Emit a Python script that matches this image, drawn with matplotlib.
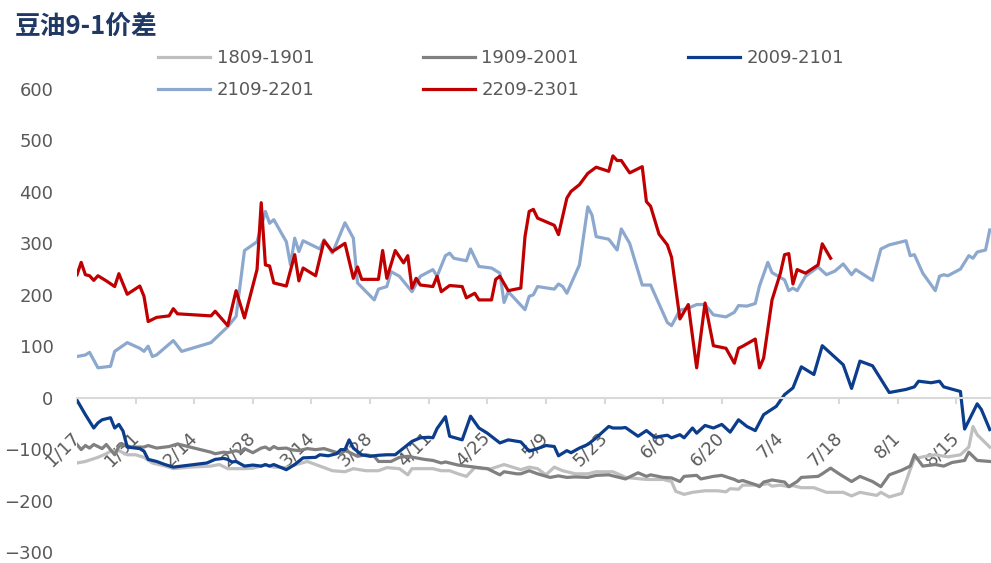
import matplotlib.pyplot as plt

plt.rcParams['font.family'] = ['DejaVu Sans', 'Noto Sans CJK SC']

# x = days since 1/17, y = spread
tick_days = [0, 14, 28, 42, 56, 70, 84, 98, 112, 126, 140, 154, 168, 182, 196, 210]
tick_labels = ['1/17', '1/31', '2/14', '2/28', '3/14', '3/28', '4/11', '4/25',
               '5/9', '5/23', '6/6', '6/20', '7/4', '7/18', '8/1', '8/15']

# 1809-1901
d1809 = [0, 2, 5, 7, 8, 10, 12, 14, 16, 18, 21, 23, 27, 32, 34, 36, 40, 42, 45, 47,
         50, 52, 55, 58, 61, 64, 66, 69, 72, 74, 77, 79, 80, 82, 85, 87, 89, 91, 93, 95,
         97, 99, 102, 104, 106, 108, 110, 112, 114, 116, 119, 122, 124, 128, 130, 131, 136, 140, 142, 143,
         145, 147, 150, 153, 155, 156, 158, 159, 163, 165, 166, 168, 170, 171, 173, 176, 179, 183, 185, 187,
         191, 192, 194, 197, 199, 200, 202, 205, 208, 211, 213, 214, 215, 218]
v1809 = [-127, -124, -116, -109, -104, -103, -111, -111, -116, -127, -133, -138, -135, -133, -130, -138, -138, -137, -131, -135,
         -136, -131, -124, -133, -142, -144, -138, -142, -142, -136, -138, -150, -138, -138, -138, -142, -142, -148, -153, -136,
         -138, -138, -130, -135, -140, -135, -138, -150, -135, -142, -148, -148, -144, -144, -151, -155, -159, -159, -163, -182,
         -188, -184, -181, -181, -183, -177, -178, -170, -170, -167, -172, -170, -173, -171, -175, -175, -184, -184, -191, -184,
         -190, -184, -193, -186, -140, -119, -115, -111, -115, -111, -96, -56, -72, -96]

# 1909-2001
d1909 = [0, 1, 2, 3, 4, 6, 7, 9, 10, 11, 13, 16, 17, 19, 22, 24, 27, 32, 33, 35,
         36, 38, 39, 40, 42, 44, 45, 46, 47, 48, 50, 51, 53, 55, 57, 59, 61, 63, 64, 65,
         67, 69, 71, 72, 75, 77, 79, 81, 83, 85, 87, 88, 91, 93, 95, 98, 99, 101, 102, 105,
         106, 108, 110, 113, 115, 117, 119, 122, 124, 127, 129, 131, 134, 136, 137, 140, 142, 144, 145, 148,
         149, 152, 154, 157, 158, 159, 162, 163, 164, 166, 169, 170, 172, 173, 177, 178, 180, 182, 185, 187,
         190, 192, 194, 197, 199, 200, 202, 205, 207, 209, 212, 213, 215, 218]
v1909 = [-91, -101, -93, -98, -91, -99, -91, -111, -95, -91, -96, -96, -93, -98, -95, -90, -96, -106, -109, -106,
         -107, -103, -106, -99, -107, -98, -96, -101, -95, -99, -98, -101, -103, -99, -101, -99, -104, -109, -103, -106,
         -114, -111, -114, -124, -124, -116, -114, -117, -120, -122, -127, -125, -131, -133, -135, -138, -142, -150, -144, -148,
         -148, -142, -148, -155, -152, -155, -154, -155, -151, -150, -154, -158, -146, -153, -150, -155, -156, -163, -153, -151,
         -158, -153, -151, -159, -163, -161, -169, -173, -164, -160, -164, -173, -163, -155, -153, -148, -137, -148, -163, -153,
         -163, -173, -150, -141, -133, -111, -133, -130, -133, -126, -122, -106, -122, -124]

# 2009-2101
d2009 = [0, 2, 4, 5, 6, 8, 9, 10, 11, 12, 15, 16, 17, 19, 21, 23, 27, 31, 33, 35,
         36, 37, 38, 40, 42, 44, 45, 46, 47, 50, 52, 54, 57, 58, 60, 62, 63, 64, 65, 66,
         68, 70, 72, 74, 76, 78, 80, 82, 84, 85, 86, 88, 89, 92, 94, 96, 98, 101, 103, 106,
         108, 110, 112, 114, 115, 117, 118, 120, 122, 124, 127, 128, 130, 131, 134, 136, 138, 141, 142, 144,
         145, 147, 148, 150, 152, 154, 156, 158, 160, 162, 164, 167, 169, 171, 173, 176, 178, 183, 185, 187,
         190, 194, 198, 200, 201, 204, 206, 207, 211, 212, 215, 216, 218]
v2009 = [-5, -33, -59, -49, -43, -39, -59, -52, -65, -96, -99, -104, -120, -124, -130, -135, -131, -127, -120, -118,
         -120, -125, -124, -133, -131, -133, -130, -133, -130, -140, -130, -117, -116, -111, -113, -109, -101, -101, -82, -98,
         -111, -114, -112, -111, -111, -98, -85, -78, -77, -78, -60, -37, -75, -82, -36, -59, -69, -88, -82, -86,
         -104, -99, -93, -95, -113, -103, -107, -98, -91, -78, -56, -59, -59, -58, -75, -64, -77, -73, -78, -72,
         -78, -59, -69, -54, -59, -52, -67, -43, -56, -64, -33, -17, 6, 19, 60, 45, 101, 64, 18, 71,
         62, 10, 16, 21, 32, 29, 32, 21, 12, -61, -12, -23, -62]

# 2109-2201
d2109 = [0, 2, 3, 5, 8, 9, 12, 15, 16, 17, 18, 19, 23, 25, 32, 36, 38, 40, 43, 45,
         46, 47, 50, 51, 52, 53, 54, 58, 59, 61, 64, 66, 67, 71, 72, 74, 75, 77, 80, 82,
         85, 86, 88, 89, 90, 93, 94, 96, 99, 101, 102, 103, 107, 108, 109, 110, 114, 115, 116, 117,
         120, 122, 123, 124, 127, 129, 130, 132, 135, 137, 141, 142, 144, 146, 148, 150, 152, 155, 157, 158,
         160, 162, 163, 165, 166, 169, 170, 171, 172, 174, 177, 179, 181, 183, 185, 186, 190, 192, 194, 198,
         199, 200, 202, 205, 206, 207, 208, 211, 213, 214, 215, 217, 218]
v2109 = [80, 83, 88, 58, 61, 90, 107, 96, 90, 100, 80, 83, 111, 90, 107, 138, 158, 286, 303, 362,
         339, 346, 303, 258, 310, 284, 305, 289, 307, 281, 340, 310, 223, 190, 211, 216, 245, 236, 206, 236,
         249, 236, 276, 281, 271, 266, 289, 255, 252, 242, 185, 206, 171, 197, 200, 216, 211, 221, 216, 203,
         258, 371, 355, 313, 308, 287, 328, 300, 219, 219, 146, 140, 170, 174, 181, 181, 161, 157, 166, 179,
         178, 183, 217, 263, 243, 229, 208, 213, 208, 236, 254, 239, 246, 260, 239, 249, 228, 289, 297, 305,
         276, 278, 242, 208, 236, 239, 237, 250, 276, 271, 283, 287, 326]

# 2209-2301
d2209 = [0, 1, 2, 3, 4, 5, 7, 9, 10, 12, 15, 16, 17, 19, 22, 23, 24, 32, 33, 36,
         38, 40, 43, 44, 45, 46, 47, 50, 52, 53, 54, 57, 59, 61, 64, 66, 67, 68, 72, 73,
         74, 76, 78, 79, 80, 81, 82, 85, 86, 87, 89, 92, 93, 95, 96, 99, 100, 101, 103, 106,
         107, 108, 109, 110, 114, 115, 117, 118, 120, 122, 124, 127, 128, 129, 130, 132, 135, 136, 137, 139,
         141, 142, 144, 146, 148, 150, 152, 155, 157, 158, 159, 162, 163, 164, 166, 168, 169, 170, 171, 172,
         174, 177, 178, 180]
v2209 = [239, 263, 239, 237, 228, 237, 227, 216, 241, 201, 217, 197, 148, 156, 159, 173, 163, 159, 168, 140,
         208, 155, 249, 379, 258, 256, 223, 217, 278, 227, 252, 237, 305, 284, 300, 232, 254, 230, 230, 286,
         232, 286, 262, 276, 213, 232, 219, 216, 236, 206, 218, 216, 194, 203, 190, 190, 230, 236, 208, 213,
         313, 362, 366, 349, 335, 317, 388, 401, 414, 436, 448, 440, 470, 461, 461, 437, 449, 381, 372, 318,
         297, 273, 153, 181, 58, 184, 101, 96, 67, 96, 100, 114, 58, 77, 190, 242, 278, 280, 221, 249,
         242, 258, 299, 271]

series = [
    ('1809-1901', d1809, v1809, '#BFBFBF'),
    ('1909-2001', d1909, v1909, '#808080'),
    ('2009-2101', d2009, v2009, '#0B3D8C'),
    ('2109-2201', d2109, v2109, '#8DA8CE'),
    ('2209-2301', d2209, v2209, '#C00000'),
]

fig = plt.figure(figsize=(9.91, 5.63), dpi=100)
ax = fig.add_axes([77 / 991, 11 / 563, 914 / 991, 463 / 563])

handles = []
for name, d, v, c in series:
    h, = ax.plot(d, v, color=c, lw=2.3, label=name, solid_joinstyle='round')
    handles.append(h)

ax.set_xlim(0, 218.3)
ax.set_ylim(-300, 600)
ax.set_yticks(range(-300, 601, 100))

for s in ['top', 'right', 'left']:
    ax.spines[s].set_visible(False)
ax.spines['bottom'].set_position(('data', 0))
ax.spines['bottom'].set_color('#D9D9D9')
ax.spines['bottom'].set_linewidth(1.5)

ax.set_xticks(tick_days)
ax.set_xticklabels(tick_labels, rotation=45, ha='right', va='center',
                   rotation_mode='anchor')
ax.tick_params(axis='x', colors='#D9D9D9', length=4, width=1.5, pad=23,
               labelcolor='#595959', labelsize=13)
ax.tick_params(axis='y', length=0, pad=17, labelcolor='#595959', labelsize=13)

# legend filled row by row: 3 entries on the first row, 2 on the second
order = [0, 3, 1, 4, 2]
fig.legend([handles[i] for i in order], [series[i][0] for i in order],
           ncol=3, loc='upper left', bbox_to_anchor=(158 / 991, 1 - 49 / 563),
           frameon=False, fontsize=13, labelcolor='#595959', borderpad=0,
           borderaxespad=0, handlelength=2.9, handletextpad=0.35,
           columnspacing=6.0, labelspacing=0.8)

fig.text(15 / 991, 1 - 13 / 563, '豆油9-1价差', ha='left', va='top',
         fontsize=18.5, fontweight='bold', color='#1F3864',
         family=['Noto Sans CJK SC', 'DejaVu Sans'])

fig.savefig('out.png', dpi=100)
